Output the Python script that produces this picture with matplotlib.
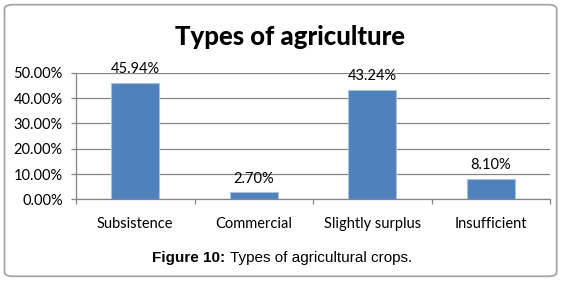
import matplotlib
matplotlib.use("Agg")
import matplotlib.pyplot as plt
from matplotlib.patches import FancyBboxPatch
from matplotlib.ticker import FuncFormatter

categories = ["Subsistence", "Commercial", "Slightly surplus", "Insufficient"]
values = [45.94, 2.70, 43.24, 8.10]
yticks = [0, 10, 20, 30, 40, 50]
title = "Types of agriculture"

W, H = 565, 283
fig = plt.figure(figsize=(W / 100, H / 100), dpi=100)
fig.patch.set_facecolor("white")

# rounded border
border = FancyBboxPatch((4.5 / W, (H - 276.3) / H), (556.7 - 4.5) / W, (276.3 - 4.7) / H,
                        boxstyle="round,pad=0,rounding_size=0.015",
                        transform=fig.transFigure, facecolor="white",
                        edgecolor="#a6a6a6", linewidth=1.3, zorder=-5)
fig.patches.append(border)

left, right = 76 / W, 550 / W
bottom, top = 1 - 199.3 / H, 1 - 72.8 / H
ax = fig.add_axes([left, bottom, right - left, top - bottom])
ax.set_facecolor("none")
ax.set_zorder(2)

x = list(range(len(categories)))
bars = ax.bar(x, values, width=0.405, color="#4F81BD", edgecolor="#a8c1e0",
              linewidth=0.8, zorder=3)
ax.set_xlim(-0.5, len(categories) - 0.5)
ax.set_ylim(0, 50)
ax.set_yticks(yticks)
ax.yaxis.set_major_formatter(FuncFormatter(lambda v, p: f"{v:.2f}%"))
ax.grid(axis="y", color="#868686", linewidth=0.9, zorder=0)
ax.set_axisbelow(True)
for s in ["top", "right"]:
    ax.spines[s].set_visible(False)
ax.spines["left"].set_color("#868686")
ax.spines["bottom"].set_color("#868686")
ax.spines["left"].set_linewidth(0.9)
ax.spines["bottom"].set_linewidth(0.9)

ax.tick_params(axis="y", length=3.6, color="#868686", width=0.9, pad=6,
               labelsize=10.5, labelcolor="black")
ax.set_xticks([i - 0.5 for i in range(len(categories) + 1)], minor=False)
ax.set_xticklabels([])
ax.tick_params(axis="x", length=3.6, color="#868686", width=0.9)
ax.set_xticks(x, minor=True)
ax.set_xticklabels(categories, minor=True)
ax.tick_params(axis="x", which="minor", length=0, pad=13, labelsize=10.5)
for lab in ax.get_yticklabels() + ax.get_xticklabels(minor=True):
    lab.set_fontfamily("Lato")

for xi, v in zip(x, values):
    ax.annotate(f"{v:.2f}%", (xi, v), xytext=(0, 5), textcoords="offset points",
                ha="center", va="bottom", fontsize=10.5, fontfamily="Lato")

fig.text(290 / W, 1 - 37 / H, title, ha="center", va="center",
         fontsize=18.5, fontweight="black", fontfamily="Lato")

cap_y = 1 - 258 / H
t1 = fig.text(0, cap_y, "Figure 10:", ha="left", va="center",
              fontsize=11, fontweight="bold", fontfamily="Liberation Sans")
t2 = fig.text(0, cap_y, " Types of agricultural crops.", ha="left",
              va="center", fontsize=11, fontfamily="Liberation Sans")
fig.canvas.draw()
w1 = t1.get_window_extent().width
w2 = t2.get_window_extent().width
x0 = 282 - (w1 + w2) / 2
t1.set_x(x0 / W)
t2.set_x((x0 + w1) / W)

fig.savefig("out.png", dpi=100)
